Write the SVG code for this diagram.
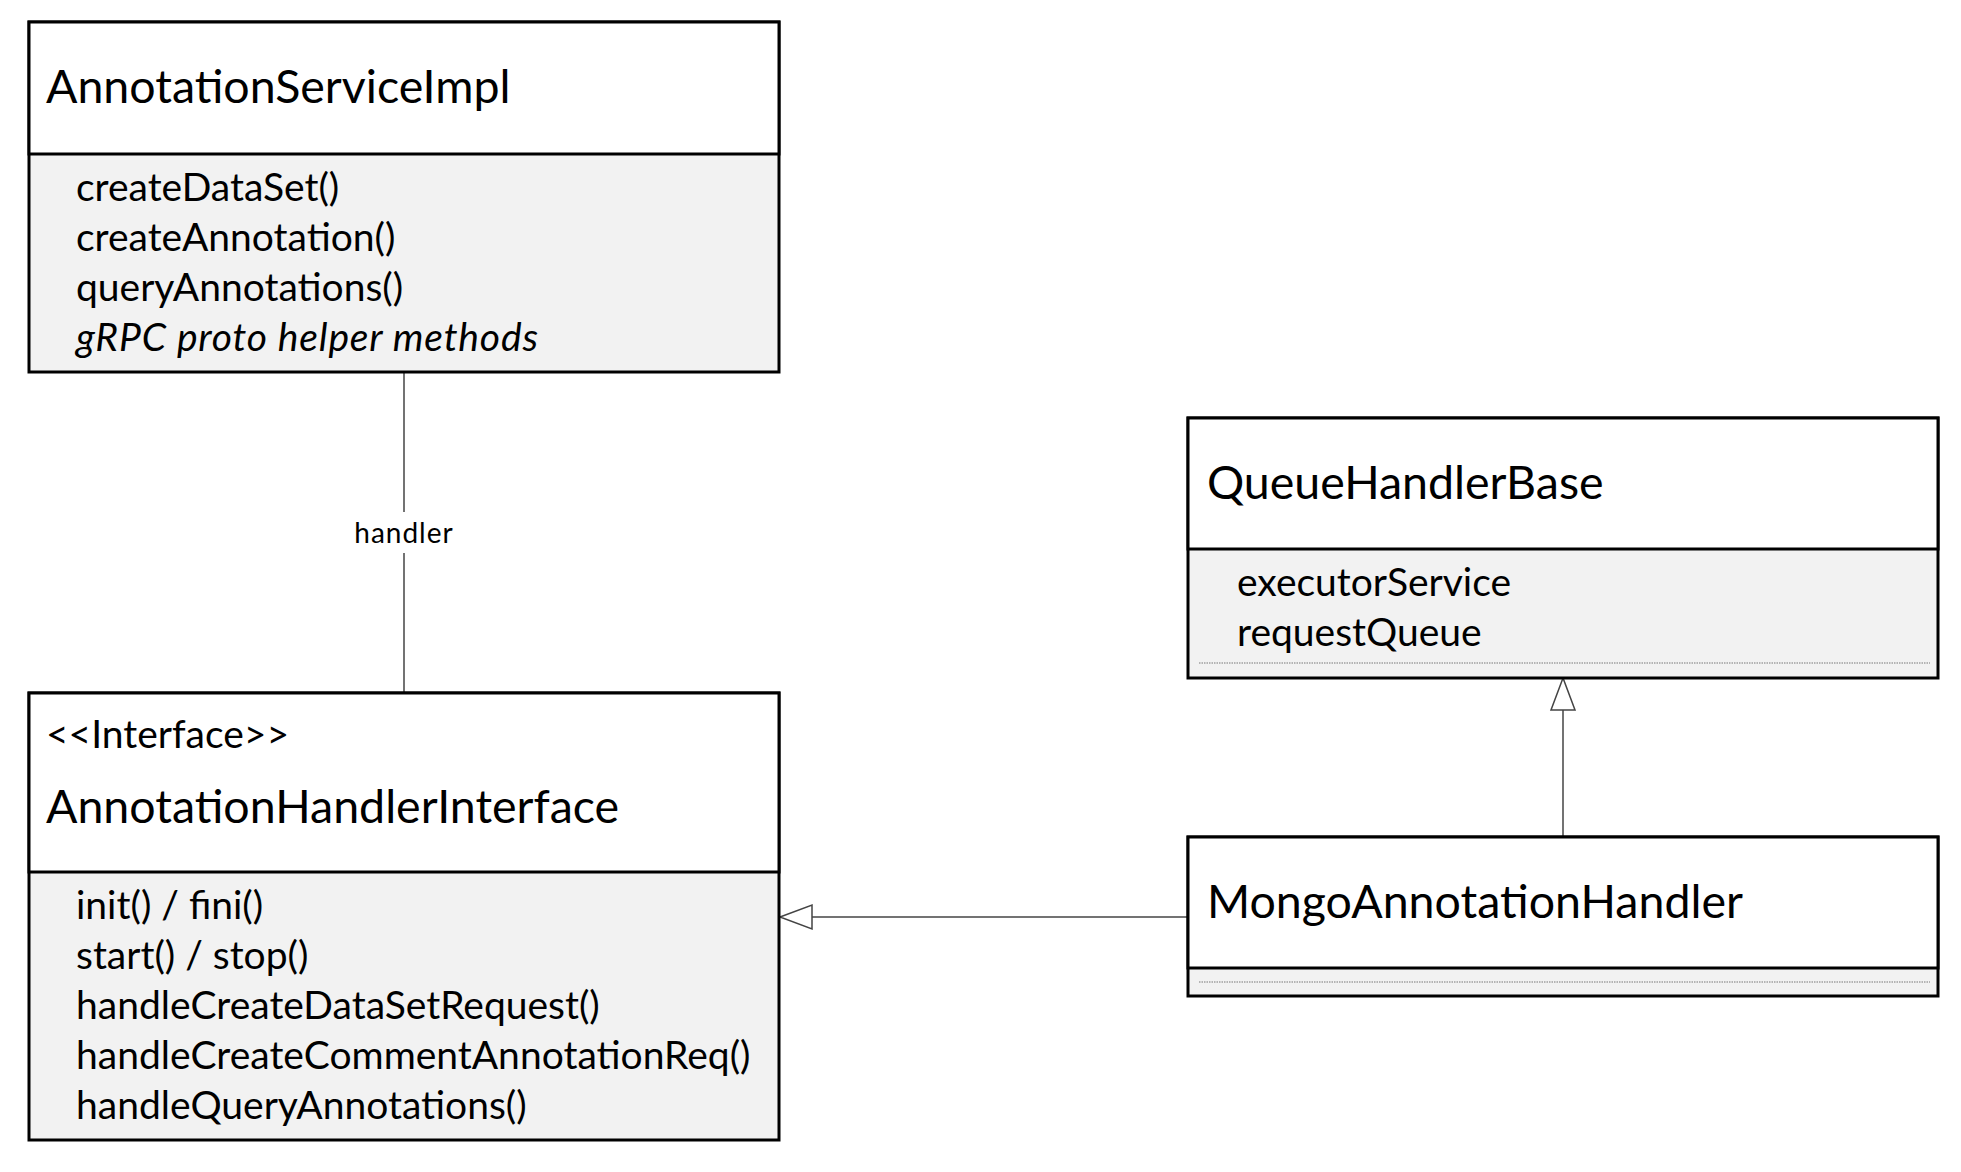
<svg xmlns="http://www.w3.org/2000/svg" width="1961" height="1172" viewBox="0 0 1961 1172">
<defs>
<style>
.head{fill:#ffffff;stroke:#000;stroke-width:3}
.body{fill:#f2f2f2;stroke:#000;stroke-width:3}
.div{stroke:#000;stroke-width:3}
.dot{stroke:#777;stroke-width:1;stroke-dasharray:1.5 1}
.title{font-family:Lato,"Open Sans",sans-serif;font-size:46.5px;fill:#000}
.item{font-family:Lato,"Open Sans",sans-serif;font-size:39px;fill:#000}
.ital{font-style:italic}
.conn{stroke:#444;stroke-width:1.5;fill:none}
.tri{fill:#fff;stroke:#444;stroke-width:1.5}
.lbl{font-family:Lato,"Open Sans",sans-serif;font-size:28px;fill:#000;letter-spacing:1px}
</style>
</defs>
<rect width="1961" height="1172" fill="#fff"/>
<g id="connectors">
<line class="conn" x1="404" y1="372" x2="404" y2="693"/>
<rect x="348" y="512" width="112" height="41" fill="#fff"/>
<text class="lbl" x="404" y="543" text-anchor="middle">handler</text>
<line class="conn" x1="1188" y1="917" x2="812" y2="917"/>
<polygon class="tri" points="780,917 812,905 812,929"/>
<line class="conn" x1="1563" y1="837" x2="1563" y2="710"/>
<polygon class="tri" points="1563,678 1551,710 1575,710"/>
</g>
<g id="AnnotationServiceImpl">
<rect class="body" x="29" y="22" width="750" height="350"/>
<rect class="head" x="29" y="22" width="750" height="132"/>
<text class="title" x="46" y="103">AnnotationServiceImpl</text>
<text class="item" x="76" y="201">createDataSet()</text>
<text class="item" x="76" y="251">createAnnotation()</text>
<text class="item" x="76" y="301">queryAnnotations()</text>
<text class="item ital" x="76" y="351" textLength="462">gRPC proto helper methods</text>
</g>
<g id="AnnotationHandlerInterface">
<rect class="body" x="29" y="693" width="750" height="447"/>
<rect class="head" x="29" y="693" width="750" height="179"/>
<text class="item" x="46" y="748">&lt;&lt;Interface&gt;&gt;</text>
<text class="title" x="46" y="823">AnnotationHandlerInterface</text>
<text class="item" x="76" y="919">init() / fini()</text>
<text class="item" x="76" y="969">start() / stop()</text>
<text class="item" x="76" y="1019">handleCreateDataSetRequest()</text>
<text class="item" x="76" y="1069">handleCreateCommentAnnotationReq()</text>
<text class="item" x="76" y="1119">handleQueryAnnotations()</text>
</g>
<g id="QueueHandlerBase">
<rect class="body" x="1188" y="418" width="750" height="260"/>
<rect class="head" x="1188" y="418" width="750" height="131"/>
<text class="title" x="1207" y="499">QueueHandlerBase</text>
<text class="item" x="1237" y="596">executorService</text>
<text class="item" x="1237" y="646">requestQueue</text>
<line class="dot" x1="1199" y1="663" x2="1930" y2="663"/>
</g>
<g id="MongoAnnotationHandler">
<rect class="body" x="1188" y="837" width="750" height="159"/>
<rect class="head" x="1188" y="837" width="750" height="131"/>
<text class="title" x="1207" y="918">MongoAnnotationHandler</text>
<line class="dot" x1="1199" y1="982" x2="1930" y2="982"/>
</g>
</svg>
